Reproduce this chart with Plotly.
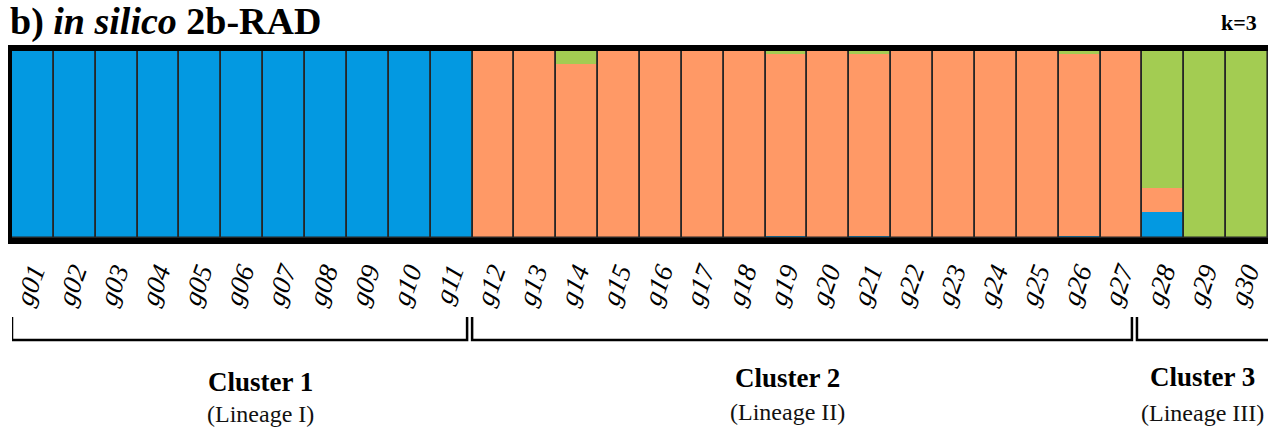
import plotly.graph_objects as go

# Ancestry proportions (k = 3) for each individual
samples = [f"g{i:02d}" for i in range(1, 31)]
blue = [1.0] * 11 + [0.0] * 7 + [0.01, 0.0, 0.01, 0.0, 0.0, 0.0, 0.0, 0.01, 0.0] + [0.14, 0.0, 0.0]
green = [0.0] * 11 + [0.0, 0.0, 0.07, 0.0, 0.0, 0.0, 0.0, 0.015, 0.0, 0.015, 0.0, 0.0, 0.0, 0.0, 0.015, 0.0] + [0.73, 1.0, 1.0]
orange = [1.0, 1.0] + [0.93, 1.0, 1.0, 1.0, 1.0, 0.975, 1.0, 0.975, 1.0, 1.0, 1.0, 1.0, 0.975, 1.0]
orange = [0.0] * 11 + orange + [0.13, 0.0, 0.0]

cluster_titles = ["Cluster 1", "Cluster 2", "Cluster 3"]
cluster_sub = ["(Lineage I)", "(Lineage II)", "(Lineage III)"]
# bracket spans (in bar-index units) and label centres
cluster_span = [(-0.5, 10.37), (10.49, 26.25), (26.37, 29.6)]
cluster_center = [5.43, 18.03, 27.94]

C_BLUE = "#0399E1"
C_ORANGE = "#FF9966"
C_GREEN = "#A3CC52"
SEP = "#262626"
SERIF = "'Liberation Serif', 'Times New Roman', Times, serif"

W, H = 1268, 435
L, T, B = 12, 51, 238  # plot area edges in pixels


def ypap(p):
    return (B - p) / (B - T)


def xpap(p):
    return (p - L) / (W - L)


xs = list(range(len(samples)))
base_orange = blue
base_green = [b + o for b, o in zip(blue, orange)]

fig = go.Figure()
fig.add_bar(x=xs, y=blue, base=[0] * len(xs), marker=dict(color=C_BLUE, line_width=0), width=1)
fig.add_bar(x=xs, y=orange, base=base_orange, marker=dict(color=C_ORANGE, line_width=0), width=1)
fig.add_bar(x=xs, y=green, base=base_green, marker=dict(color=C_GREEN, line_width=0), width=1)
# outlines of each individual's bar
fig.add_bar(x=xs, y=[1.0] * len(xs), base=[0] * len(xs),
            marker=dict(color="rgba(0,0,0,0)", line=dict(color=SEP, width=1.6)), width=1)

shapes = []
# heavy frame (top, bottom, left)
shapes.append(dict(type="line", xref="paper", yref="paper", x0=xpap(8), x1=1.01,
                   y0=ypap(48), y1=ypap(48), line=dict(color="black", width=6)))
shapes.append(dict(type="line", xref="paper", yref="paper", x0=xpap(8), x1=1.01,
                   y0=ypap(241), y1=ypap(241), line=dict(color="black", width=6)))
shapes.append(dict(type="line", xref="paper", yref="paper", x0=xpap(10), x1=xpap(10),
                   y0=ypap(45), y1=ypap(244), line=dict(color="black", width=4)))

# cluster brackets
for x0, x1 in cluster_span:
    pts = f"M {x0},{ypap(317)} L {x0},{ypap(340)} L {x1},{ypap(340)} L {x1},{ypap(317)}"
    shapes.append(dict(type="path", xref="x", yref="paper", path=pts,
                       line=dict(color="black", width=2.5)))

annotations = [
    dict(text="<b>b) <i>in silico</i> 2b-RAD</b>", xref="paper", yref="paper",
         x=xpap(8), y=ypap(21), xanchor="left", yanchor="middle", showarrow=False,
         font=dict(family=SERIF, size=38, color="black")),
    dict(text="<b>k=3</b>", xref="paper", yref="paper",
         x=xpap(1239), y=ypap(22), xanchor="center", yanchor="middle", showarrow=False,
         font=dict(family=SERIF, size=22, color="black")),
]
title_y = [382, 378, 377]
sub_y = [414, 412, 413]
for name, sub, cx, ty, sy in zip(cluster_titles, cluster_sub, cluster_center, title_y, sub_y):
    annotations.append(dict(text=f"<b>{name}</b>", xref="x", yref="paper", x=cx, y=ypap(ty),
                            xanchor="center", yanchor="middle", showarrow=False,
                            font=dict(family=SERIF, size=27, color="black")))
    annotations.append(dict(text=sub, xref="x", yref="paper", x=cx, y=ypap(sy),
                            xanchor="center", yanchor="middle", showarrow=False,
                            font=dict(family=SERIF, size=24, color="#111")))

fig.update_layout(
    width=W, height=H,
    margin=dict(l=L, r=0, t=T, b=H - B, pad=0),
    barmode="overlay", bargap=0,
    showlegend=False,
    plot_bgcolor="white", paper_bgcolor="white",
    shapes=shapes, annotations=annotations,
    xaxis=dict(range=[-0.5, 29.5], tickmode="array", tickvals=xs, ticktext=samples,
               tickangle=-70, ticklabelstandoff=12, showgrid=False, zeroline=False,
               showline=False, ticks="",
               tickfont=dict(family=SERIF, size=27, style="italic", color="black")),
    yaxis=dict(range=[0, 1], visible=False, fixedrange=True),
)

fig.write_html("out.html")
